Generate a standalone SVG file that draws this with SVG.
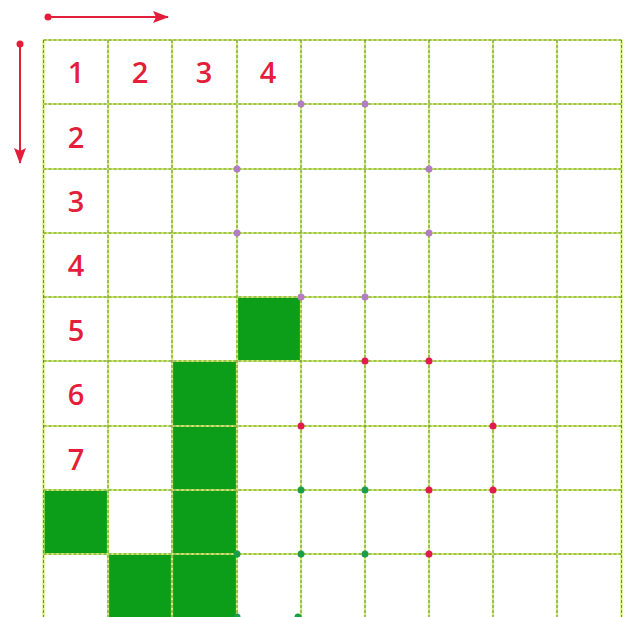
<svg xmlns="http://www.w3.org/2000/svg" width="631" height="617" viewBox="0 0 631 617">
<defs>
<style>
.gl{stroke:#cdf16a;stroke-width:2.2;fill:none}
.gd{stroke:#3a4a30;stroke-width:1;stroke-dasharray:3 2;fill:none;opacity:0.6}
.fill{fill:#0c9e18}
.num{font-family:"Open Sans","Liberation Sans",sans-serif;font-size:29px;font-weight:600;fill:#e41e3a;text-anchor:middle}
.pd{fill:#b47cc4}
.rd{fill:#e5194c}
.gdot{fill:#1a9e4a}
.arr{stroke:#e41e3a;stroke-width:2;fill:none}
</style>
<marker id="ah" viewBox="0 0 16 12" refX="15" refY="6" markerWidth="16" markerHeight="12" orient="auto" markerUnits="userSpaceOnUse">
<path d="M0,0 L16,6 L0,12 L3,6 Z" fill="#e41e3a"/>
</marker>
</defs>
<rect width="631" height="617" fill="#ffffff"/>
<g id="fills">
<rect class="fill" x="237" y="297" width="64" height="64"/>
<rect class="fill" x="172" y="361" width="65" height="256"/>
<rect class="fill" x="43.5" y="490" width="64.5" height="64"/>
<rect class="fill" x="108" y="554" width="64" height="63"/>
</g>
<g id="grid">
<path class="gl" d="M43.5,40V617 M108,40V617 M172,40V617 M237,40V617 M301,40V617 M365,40V617 M429,40V617 M493,40V617 M557,40V617 M621.5,40V617"/>
<path class="gl" d="M43.5,40H621.5 M43.5,104H621.5 M43.5,169H621.5 M43.5,233H621.5 M43.5,297H621.5 M43.5,361H621.5 M43.5,426H621.5 M43.5,490H621.5 M43.5,554H621.5"/>
<path class="gd" d="M43.5,40V617 M108,40V617 M172,40V617 M237,40V617 M301,40V617 M365,40V617 M429,40V617 M493,40V617 M557,40V617 M621.5,40V617"/>
<path class="gd" d="M43.5,40H621.5 M43.5,104H621.5 M43.5,169H621.5 M43.5,233H621.5 M43.5,297H621.5 M43.5,361H621.5 M43.5,426H621.5 M43.5,490H621.5 M43.5,554H621.5"/>
</g>
<g id="labels">
<text class="num" x="76" y="83">1</text>
<text class="num" x="140" y="83">2</text>
<text class="num" x="204" y="83">3</text>
<text class="num" x="268" y="83">4</text>
<text class="num" x="76" y="148">2</text>
<text class="num" x="76" y="212">3</text>
<text class="num" x="76" y="276">4</text>
<text class="num" x="76" y="341">5</text>
<text class="num" x="76" y="405">6</text>
<text class="num" x="76" y="470">7</text>
</g>
<g id="arrows">
<circle cx="48" cy="17" r="3.5" fill="#e41e3a"/>
<line class="arr" x1="48" y1="17" x2="168" y2="17" marker-end="url(#ah)"/>
<circle cx="20" cy="44" r="3.5" fill="#e41e3a"/>
<line class="arr" x1="20" y1="44" x2="20" y2="163" marker-end="url(#ah)"/>
</g>
<g id="dots">
<circle class="pd" cx="301" cy="104" r="3.5"/>
<circle class="pd" cx="365" cy="104" r="3.5"/>
<circle class="pd" cx="237" cy="169" r="3.5"/>
<circle class="pd" cx="429" cy="169" r="3.5"/>
<circle class="pd" cx="237" cy="233" r="3.5"/>
<circle class="pd" cx="429" cy="233" r="3.5"/>
<circle class="pd" cx="301" cy="297" r="3.5"/>
<circle class="pd" cx="365" cy="297" r="3.5"/>
<circle class="rd" cx="365" cy="361" r="3.5"/>
<circle class="rd" cx="429" cy="361" r="3.5"/>
<circle class="rd" cx="301" cy="426" r="3.5"/>
<circle class="rd" cx="493" cy="426" r="3.5"/>
<circle class="rd" cx="429" cy="490" r="3.5"/>
<circle class="rd" cx="493" cy="490" r="3.5"/>
<circle class="rd" cx="429" cy="554" r="3.5"/>
<circle class="gdot" cx="301" cy="490" r="3.5"/>
<circle class="gdot" cx="365" cy="490" r="3.5"/>
<circle class="gdot" cx="237" cy="554" r="3.5"/>
<circle class="gdot" cx="301" cy="554" r="3.5"/>
<circle class="gdot" cx="365" cy="554" r="3.5"/>
<circle class="gdot" cx="237" cy="617" r="3.5"/>
<circle class="gdot" cx="298" cy="617" r="3.5"/>
</g>
</svg>
